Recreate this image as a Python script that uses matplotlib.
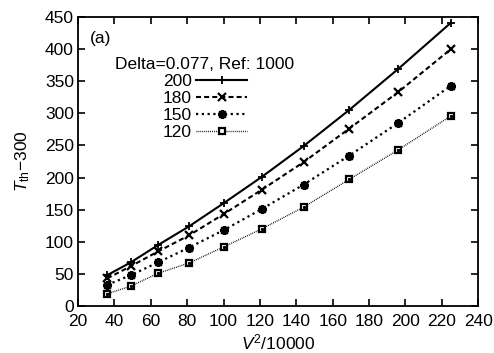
import matplotlib

matplotlib.use("Agg")
import matplotlib.pyplot as plt

plt.rcParams["font.family"] = ["Liberation Sans", "DejaVu Sans"]
plt.rcParams["mathtext.fontset"] = "custom"
plt.rcParams["mathtext.it"] = "Liberation Sans:italic"
plt.rcParams["mathtext.rm"] = "Liberation Sans"

# x = V^2/10000 for V = 600 ... 1500
v2 = [36, 49, 64, 81, 100, 121, 144, 169, 196, 225]

t_200 = [48, 68, 95, 124, 160, 201, 249, 305, 369, 441]
t_180 = [43, 62, 85, 110, 143, 181, 224, 276, 333, 400]
t_150 = [33, 48, 68, 91, 118, 151, 189, 234, 285, 343]
t_120 = [19, 31, 51, 67, 92, 120, 154, 197, 243, 296]

labels = ["200", "180", "150", "120"]

FS = 12.5

fig = plt.figure(figsize=(4.94, 3.53), dpi=100)
ax = fig.add_axes([0.158, 0.133, 0.810, 0.819])

ax.plot(v2, t_200, color="black", lw=1.5, ls="-", marker="+", ms=6, mew=1.3,
        label=labels[0])
ax.plot(v2, t_180, color="black", lw=1.5, ls=(0, (2.4, 1.5)), marker="x", ms=6,
        mew=1.6, label=labels[1])
ax.plot(v2, t_150, color="black", lw=1.6, ls=(0, (1.0, 1.6)), marker=(8, 2, 0),
        ms=6.5, mew=1.6, label=labels[2])
ax.plot(v2, t_150, ls="none", marker="s", ms=3.6, color="black")
ax.plot(v2, t_120, color="black", lw=1.0, ls=(0, (0.6, 0.8)), marker="s", ms=4.8,
        mew=1.6, mfc="white", label=labels[3])
ax.plot(v2, t_120, ls="none", marker="s", ms=1.2, color="black")

ax.set_xlim(20, 240)
ax.set_ylim(0, 450)
ax.set_xticks(range(20, 241, 20))
ax.set_yticks(range(0, 451, 50))
ax.tick_params(direction="in", top=True, right=True, length=5, width=1.2,
               labelsize=FS)
ax.tick_params(axis="x", pad=6)
ax.tick_params(axis="y", pad=3)
for s in ax.spines.values():
    s.set_linewidth(1.3)

ax.set_xlabel("$V^2$/10000", fontsize=FS, labelpad=2)
ax.set_ylabel("$T_{\\rm th}$$-$300", fontsize=FS, labelpad=9)

ax.text(0.03, 0.925, "(a)", transform=ax.transAxes, fontsize=FS,
        va="center", ha="left")

leg = ax.legend(loc="upper left", bbox_to_anchor=(0.093, 0.86), frameon=False,
                markerfirst=False, handlelength=2.9, handletextpad=0.25,
                labelspacing=0.1, fontsize=FS,
                title="Delta=0.077, Ref: 1000", title_fontsize=FS,
                borderpad=0.0, borderaxespad=0.0)

fig.savefig("out.png", dpi=100)
